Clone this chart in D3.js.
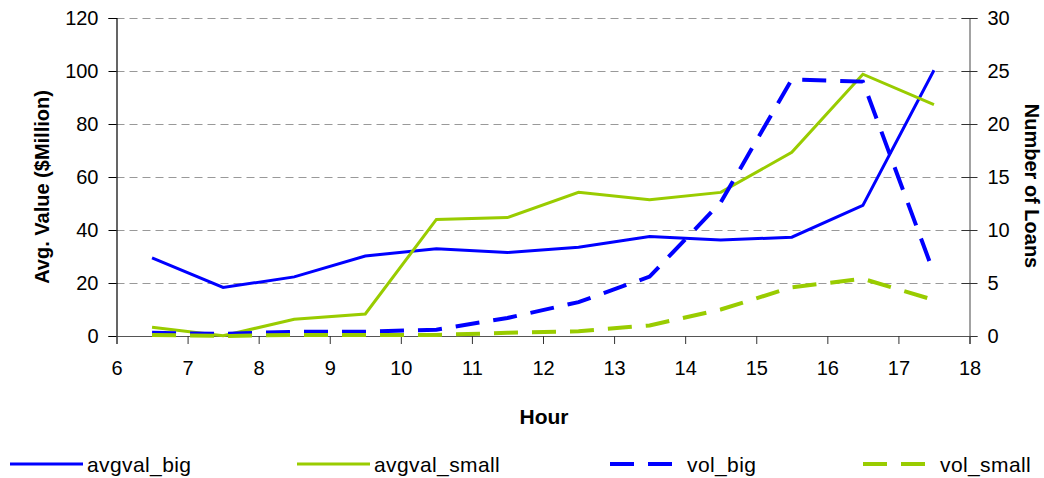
<!DOCTYPE html>
<html>
<head>
<meta charset="utf-8">
<script src="https://cdn.jsdelivr.net/npm/d3@7"></script>
<style>
  html, body { margin: 0; padding: 0; background: #fff; }
  svg { display: block; font-family: "Liberation Sans", Arial, sans-serif; }
</style>
</head>
<body>
<svg id="chart" width="1044" height="478"></svg>
<script>
// Hourly loan data: average value (left axis, $M) and number of loans (right axis)
const hours = [6.5, 7.5, 8.5, 9.5, 10.5, 11.5, 12.5, 13.5, 14.5, 15.5, 16.5, 17.5];
const avgvalBig   = [29.5, 18.3, 22.3, 30.2, 32.9, 31.5, 33.5, 37.5, 36.2, 37.3, 49.3, 100.3];
const avgvalSmall = [3.3, 0.1, 6.3, 8.3, 44.0, 44.7, 54.2, 51.4, 54.2, 69.3, 98.8, 87.3];
const volBig      = [0.3, 0.2, 0.4, 0.4, 0.6, 1.7, 3.2, 5.6, 12.6, 24.2, 24.0, 5.9];
const volSmall    = [0.1, 0.0, 0.1, 0.1, 0.1, 0.3, 0.45, 1.0, 2.5, 4.6, 5.4, 3.4];

const xTicks = [6, 7, 8, 9, 10, 11, 12, 13, 14, 15, 16, 17, 18];
const leftTicks = [0, 20, 40, 60, 80, 100, 120];
const rightTicks = [0, 5, 10, 15, 20, 25, 30];

const BLUE = "#0000ff";
const GREEN = "#99cc00";

const series = [
  { name: "avgval_big",   values: avgvalBig,   color: BLUE,  axis: "left",  dashed: false },
  { name: "avgval_small", values: avgvalSmall, color: GREEN, axis: "left",  dashed: false },
  { name: "vol_big",      values: volBig,      color: BLUE,  axis: "right", dashed: true },
  { name: "vol_small",    values: volSmall,    color: GREEN, axis: "right", dashed: true }
];

const svg = d3.select("#chart");
const plot = { left: 116.5, right: 969.5, top: 18, bottom: 336 };

const x = d3.scaleLinear().domain([6, 18]).range([plot.left, plot.right]);
const yL = d3.scaleLinear().domain([0, 120]).range([plot.bottom, plot.top]);
const yR = d3.scaleLinear().domain([0, 30]).range([plot.bottom, plot.top]);

// horizontal gridlines
svg.append("g")
  .selectAll("line")
  .data(leftTicks.filter(d => d > 0))
  .join("line")
  .attr("x1", plot.left).attr("x2", plot.right)
  .attr("y1", d => Math.round(yL(d)) + 0.5).attr("y2", d => Math.round(yL(d)) + 0.5)
  .attr("stroke", "#999")
  .attr("stroke-width", 1)
  .attr("stroke-dasharray", "8,5");

const fontSize = 20;

// left axis
const gL = svg.append("g")
  .attr("transform", `translate(${plot.left},0)`)
  .call(d3.axisLeft(yL).tickValues(leftTicks).tickSize(8).tickPadding(10).tickFormat(d3.format("d")));
gL.select(".domain").attr("stroke", "#000").attr("stroke-width", 1.2);
gL.selectAll(".tick line").attr("stroke", "#000");
gL.selectAll("text").attr("font-size", fontSize).attr("fill", "#000")
  .attr("font-family", "Liberation Sans, Arial, sans-serif");

// right axis (ticks cross the axis line)
const gR = svg.append("g")
  .attr("transform", `translate(${plot.right},0)`)
  .call(d3.axisRight(yR).tickValues(rightTicks).tickSize(8).tickPadding(10));
gR.select(".domain").attr("stroke", "#666").attr("stroke-width", 1.2);
gR.selectAll(".tick line").attr("x1", -8).attr("stroke", "#333");
gR.selectAll("text").attr("font-size", fontSize).attr("fill", "#000")
  .attr("font-family", "Liberation Sans, Arial, sans-serif");

// bottom axis
const gB = svg.append("g")
  .attr("transform", `translate(0,${plot.bottom})`)
  .call(d3.axisBottom(x).tickValues(xTicks).tickSize(8).tickPadding(17).tickFormat(d3.format("d")));
gB.select(".domain").attr("stroke", "#555").attr("stroke-width", 1.2);
gB.selectAll(".tick line").attr("stroke", "#333");
gB.selectAll("text").attr("font-size", fontSize).attr("fill", "#000")
  .attr("font-family", "Liberation Sans, Arial, sans-serif");

// axis titles
svg.append("text")
  .attr("transform", `translate(49,187) rotate(-90)`)
  .attr("text-anchor", "middle")
  .attr("font-size", 20).attr("font-weight", "bold")
  .text("Avg. Value ($Million)");

svg.append("text")
  .attr("transform", `translate(1025,186) rotate(90)`)
  .attr("text-anchor", "middle")
  .attr("font-size", 20).attr("font-weight", "bold")
  .text("Number of Loans");

svg.append("text")
  .attr("x", 544).attr("y", 424)
  .attr("text-anchor", "middle")
  .attr("font-size", 21).attr("font-weight", "bold")
  .text("Hour");

// series lines
const lines = svg.append("g");
series.forEach(s => {
  const yScale = s.axis === "left" ? yL : yR;
  const gen = d3.line().x((d, i) => x(hours[i])).y(d => yScale(d));
  lines.append("path")
    .datum(s.values)
    .attr("d", gen)
    .attr("fill", "none")
    .attr("stroke", s.color)
    .attr("stroke-width", s.dashed ? 4 : 3)
    .attr("stroke-dasharray", s.dashed ? "24,14" : null);
});

// legend
const legendX = [10, 297, 610, 863];
const legend = svg.append("g");
series.forEach((s, i) => {
  const lx = legendX[i];
  legend.append("line")
    .attr("x1", lx).attr("x2", lx + 73)
    .attr("y1", 464).attr("y2", 464)
    .attr("stroke", s.color)
    .attr("stroke-width", s.dashed ? 4 : 3)
    .attr("stroke-dasharray", s.dashed ? "24,14" : null);
  legend.append("text")
    .attr("x", lx + 77).attr("y", 472)
    .attr("font-size", 21)
    .attr("letter-spacing", 0.4)
    .text(s.name);
});
</script>
</body>
</html>
